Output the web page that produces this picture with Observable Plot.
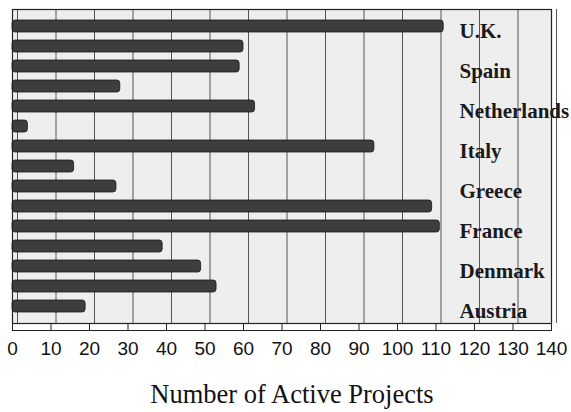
<!DOCTYPE html>
<html>
<head>
<meta charset="utf-8">
<script src="https://cdn.jsdelivr.net/npm/d3@7"></script>
<script src="https://cdn.jsdelivr.net/npm/@observablehq/plot@0.6"></script>
<style>
  html, body { margin: 0; padding: 0; background: #ffffff; }
  #chart { width: 571px; }
  #title { width: 571px; box-sizing: border-box; padding-left: 13px; text-align: center;
           font-family: "Liberation Serif", "DejaVu Serif", serif; font-size: 26.5px;
           line-height: 38px; color: #111; }
</style>
</head>
<body>
<div id="chart"></div>
<div id="title">Number of Active Projects</div>
<script>
const countries = ["U.K.", "Sweden", "Spain", "Portugal", "Netherlands", "Luxembourg", "Italy",
  "Ireland", "Greece", "Germany", "France", "Finland", "Denmark", "Belgium", "Austria"];
const projects = [112, 60, 59, 28, 63, 4, 94, 16, 27, 109, 111, 39, 49, 53, 19];
const labeledCountries = ["U.K.", "Spain", "Netherlands", "Italy", "Greece", "France", "Denmark", "Austria"];
const xTicks = [0, 10, 20, 30, 40, 50, 60, 70, 80, 90, 100, 110, 120, 130, 140];

const data = countries.map((c, i) => ({country: c, value: projects[i]}));

const chart = Plot.plot({
  width: 571,
  height: 375,
  marginLeft: 12,
  marginRight: 20,
  marginTop: 9,
  marginBottom: 52,
  style: {background: "#ffffff", color: "#111"},
  x: {domain: [0, 140], ticks: xTicks},
  y: {domain: countries, padding: 0.4},
  marks: [
    Plot.frame({fill: "#eeeeee", stroke: null}),
    Plot.gridX(xTicks, {stroke: "#555", strokeOpacity: 1, strokeWidth: 1, dx: 5}),
    Plot.barX(data, {x: "value", y: "country", fill: "#3d3d3d", stroke: "#1a1a1a", strokeWidth: 0.8, rx: 3}),
    Plot.axisX({ticks: xTicks, tickSize: 7, tickPadding: 11, fontSize: 19,
      fontFamily: "Liberation Sans, Arial, sans-serif", label: null, stroke: "#222", fill: "#111"}),
    Plot.axisY(labeledCountries, {anchor: "right", tickSize: 0, textAnchor: "start", dx: -101, dy: 5,
      fontSize: 21, fontWeight: "bold", fontFamily: "Liberation Serif, serif", label: null, fill: "#1a1a1a"}),
    Plot.frame({stroke: "#222", strokeWidth: 1.2}),
    Plot.frame({anchor: "bottom", dy: 7, stroke: "#222"})
  ]
});
document.getElementById("chart").appendChild(chart);
</script>
</body>
</html>
